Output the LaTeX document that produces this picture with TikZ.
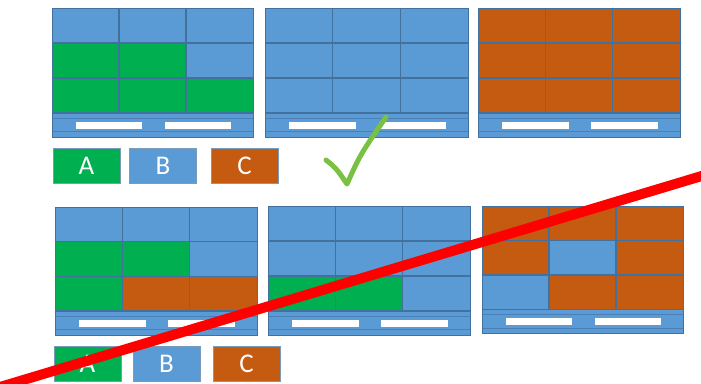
\documentclass[tikz,border=0pt]{standalone}
\usepackage{fontspec}
\setmainfont{Carlito}
\definecolor{cA}{HTML}{00B050}
\definecolor{cB}{HTML}{5B9BD5}
\definecolor{cC}{HTML}{C55A11}
\definecolor{gl}{HTML}{41719C}
\definecolor{gl2}{HTML}{4A80B8}
\definecolor{chk}{HTML}{7AC143}
\tikzset{
  gridline/.style={draw=gl, line width=1.5pt},
  barline/.style={draw=gl2, line width=0.8pt},
  whitebar/.style={fill=white},
  legbox/.style={draw=gl!70, line width=0.8pt, minimum width=67pt, minimum height=35pt,
     inner sep=0pt, text=white, font=\fontsize{27}{27}\selectfont},
}
\newcommand\gridpanel[5]{%
  \pgfmathsetmacro\pw{#3-#1}%
  \pgfmathsetmacro\ph{#4-#2}%
  \pgfmathsetmacro\gb{#2+0.814*\ph}%
  \pgfmathsetmacro\rh{(\gb-#2)/3}%
  \pgfmathsetmacro\cw{\pw/3}%
  \fill[cB] (#1,#2) rectangle (#3,#4);
  \foreach \c [count=\i from 0] in {#5} {
    \pgfmathtruncatemacro\r{div(\i,3)}
    \pgfmathtruncatemacro\k{mod(\i,3)}
    \fill[\c] ({#1+\k*\cw},{#2+\r*\rh}) rectangle ++(\cw,\rh);
  }
  \draw[gridline] ({#1+\cw},#2) -- ({#1+\cw},\gb);
  \draw[gridline] ({#1+2*\cw},#2) -- ({#1+2*\cw},\gb);
  \draw[gridline] (#1,{#2+\rh}) -- (#3,{#2+\rh});
  \draw[gridline] (#1,{#2+2*\rh}) -- (#3,{#2+2*\rh});
  \draw[gridline] (#1,\gb) -- (#3,\gb);
  \draw[barline] (#1,{#2+0.855*\ph}) -- (#3,{#2+0.855*\ph});
  \draw[barline] (#1,{#2+0.96*\ph}) -- (#3,{#2+0.96*\ph});
  \fill[whitebar] ({#1+0.12*\pw},{#2+0.884*\ph}) rectangle ({#1+0.45*\pw},{#2+0.938*\ph});
  \fill[whitebar] ({#1+0.56*\pw},{#2+0.884*\ph}) rectangle ({#1+0.89*\pw},{#2+0.938*\ph});
  \draw[gl, line width=1pt] (#1,#2) rectangle (#3,#4);
}
\begin{document}
\begin{tikzpicture}[x=1pt,y=-1pt]
\useasboundingbox[fill=white] (0,0) rectangle (701,383);
% top row
\gridpanel{52}{8}{253}{137}{cB,cB,cB,cA,cA,cB,cA,cA,cA}
\gridpanel{265}{8}{468}{137}{cB,cB,cB,cB,cB,cB,cB,cB,cB}
\gridpanel{478}{8}{680}{137}{cC,cC,cC,cC,cC,cC,cC,cC,cC}
% bottom row
\gridpanel{55}{207}{257}{335}{cB,cB,cB,cA,cA,cB,cA,cC,cC}
\gridpanel{268}{206}{470}{335}{cB,cB,cB,cB,cB,cB,cA,cA,cB}
\gridpanel{482}{206}{683}{333}{cC,cC,cC,cC,cB,cC,cB,cC,cC}
% legends
\node[legbox, fill=cA] (ta) at (86.5,165.5) {A};
\node[legbox, fill=cB] (tb) at (163,165.5) {B};
\node[legbox, fill=cC] (tc) at (244.5,165.5) {C};
\node[legbox, fill=cA] (ba) at (87.5,363.5) {A};
\node[legbox, fill=cB] (bb) at (166.5,363.5) {B};
\node[legbox, fill=cC] (bc) at (246.5,363.5) {C};
% check mark
\draw[chk, line width=5pt, line cap=round, line join=round]
  (326,160) .. controls (336,168) .. (347,184) .. controls (360,155) .. (386,117);
% red cross line
\coordinate (r1) at (0,387);
\coordinate (r2) at (705,175);
\draw[red, line width=10pt] (r1) -- (r2);
\end{tikzpicture}
\end{document}
